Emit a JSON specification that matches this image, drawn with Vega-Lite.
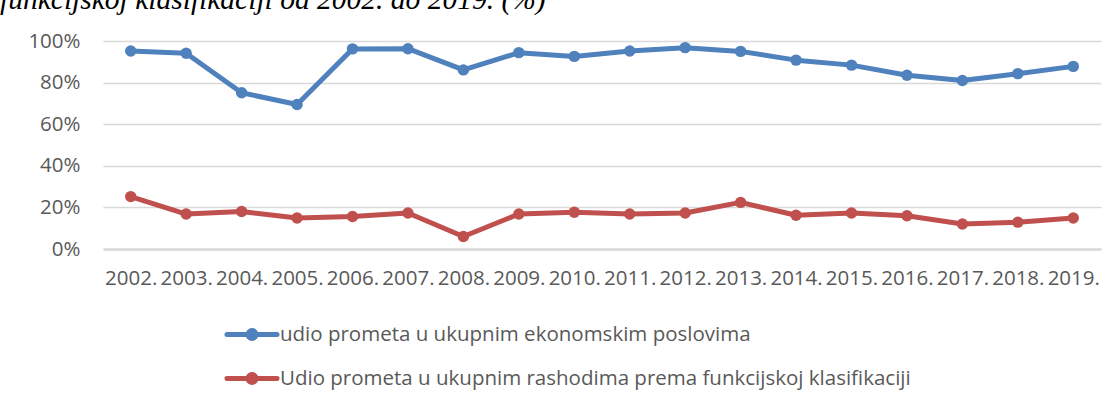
{
  "$schema": "https://vega.github.io/schema/vega-lite/v6.json",
  "width": 998,
  "height": 208,
  "autosize": {"type": "none"},
  "padding": {"left": 103, "top": 41, "right": 14, "bottom": 159},
  "background": "white",
  "title": {
    "text": "funkcijskoj klasifikaciji od 2002. do 2019. (%)",
    "anchor": "start",
    "frame": "group",
    "font": "Liberation Serif",
    "fontStyle": "italic",
    "fontWeight": "normal",
    "fontSize": 29.5,
    "color": "black",
    "baseline": "alphabetic",
    "offset": 0,
    "dx": -103,
    "dy": 7
  },
  "data": {
    "values": [
      {"year": "2002.", "series": "udio prometa u ukupnim ekonomskim poslovima", "value": 95.2},
      {"year": "2003.", "series": "udio prometa u ukupnim ekonomskim poslovima", "value": 94.1},
      {"year": "2004.", "series": "udio prometa u ukupnim ekonomskim poslovima", "value": 75.1},
      {"year": "2005.", "series": "udio prometa u ukupnim ekonomskim poslovima", "value": 69.5},
      {"year": "2006.", "series": "udio prometa u ukupnim ekonomskim poslovima", "value": 96.2},
      {"year": "2007.", "series": "udio prometa u ukupnim ekonomskim poslovima", "value": 96.3},
      {"year": "2008.", "series": "udio prometa u ukupnim ekonomskim poslovima", "value": 86.1},
      {"year": "2009.", "series": "udio prometa u ukupnim ekonomskim poslovima", "value": 94.4},
      {"year": "2010.", "series": "udio prometa u ukupnim ekonomskim poslovima", "value": 92.6},
      {"year": "2011.", "series": "udio prometa u ukupnim ekonomskim poslovima", "value": 95.2},
      {"year": "2012.", "series": "udio prometa u ukupnim ekonomskim poslovima", "value": 96.8},
      {"year": "2013.", "series": "udio prometa u ukupnim ekonomskim poslovima", "value": 95.0},
      {"year": "2014.", "series": "udio prometa u ukupnim ekonomskim poslovima", "value": 90.8},
      {"year": "2015.", "series": "udio prometa u ukupnim ekonomskim poslovima", "value": 88.4},
      {"year": "2016.", "series": "udio prometa u ukupnim ekonomskim poslovima", "value": 83.5},
      {"year": "2017.", "series": "udio prometa u ukupnim ekonomskim poslovima", "value": 81.0},
      {"year": "2018.", "series": "udio prometa u ukupnim ekonomskim poslovima", "value": 84.3},
      {"year": "2019.", "series": "udio prometa u ukupnim ekonomskim poslovima", "value": 87.8},
      {"year": "2002.", "series": "Udio prometa u ukupnim rashodima prema funkcijskoj klasifikaciji", "value": 25.2},
      {"year": "2003.", "series": "Udio prometa u ukupnim rashodima prema funkcijskoj klasifikaciji", "value": 16.8},
      {"year": "2004.", "series": "Udio prometa u ukupnim rashodima prema funkcijskoj klasifikaciji", "value": 18.0},
      {"year": "2005.", "series": "Udio prometa u ukupnim rashodima prema funkcijskoj klasifikaciji", "value": 14.9},
      {"year": "2006.", "series": "Udio prometa u ukupnim rashodima prema funkcijskoj klasifikaciji", "value": 15.6},
      {"year": "2007.", "series": "Udio prometa u ukupnim rashodima prema funkcijskoj klasifikaciji", "value": 17.3},
      {"year": "2008.", "series": "Udio prometa u ukupnim rashodima prema funkcijskoj klasifikaciji", "value": 6.0},
      {"year": "2009.", "series": "Udio prometa u ukupnim rashodima prema funkcijskoj klasifikaciji", "value": 16.8},
      {"year": "2010.", "series": "Udio prometa u ukupnim rashodima prema funkcijskoj klasifikaciji", "value": 17.7},
      {"year": "2011.", "series": "Udio prometa u ukupnim rashodima prema funkcijskoj klasifikaciji", "value": 16.8},
      {"year": "2012.", "series": "Udio prometa u ukupnim rashodima prema funkcijskoj klasifikaciji", "value": 17.3},
      {"year": "2013.", "series": "Udio prometa u ukupnim rashodima prema funkcijskoj klasifikaciji", "value": 22.4},
      {"year": "2014.", "series": "Udio prometa u ukupnim rashodima prema funkcijskoj klasifikaciji", "value": 16.2},
      {"year": "2015.", "series": "Udio prometa u ukupnim rashodima prema funkcijskoj klasifikaciji", "value": 17.3},
      {"year": "2016.", "series": "Udio prometa u ukupnim rashodima prema funkcijskoj klasifikaciji", "value": 16.0},
      {"year": "2017.", "series": "Udio prometa u ukupnim rashodima prema funkcijskoj klasifikaciji", "value": 12.0},
      {"year": "2018.", "series": "Udio prometa u ukupnim rashodima prema funkcijskoj klasifikaciji", "value": 12.9},
      {"year": "2019.", "series": "Udio prometa u ukupnim rashodima prema funkcijskoj klasifikaciji", "value": 14.9}
    ]
  },
  "encoding": {
    "x": {
      "field": "year",
      "type": "ordinal",
      "sort": null,
      "scale": {"type": "point", "padding": 0.5},
      "axis": {
        "title": null,
        "labelAngle": 0,
        "labelFont": "Open Sans",
        "labelFontSize": 20.5,
        "labelColor": "#595959",
        "labelPadding": 19,
        "ticks": false,
        "tickSize": 0,
        "domain": true,
        "domainColor": "#d9d9d9",
        "domainWidth": 2.5,
        "grid": false,
        "labelOverlap": false,
        "labelBound": false,
        "labelFlush": false
      }
    },
    "y": {
      "field": "value",
      "type": "quantitative",
      "scale": {"domain": [0, 100]},
      "axis": {
        "title": null,
        "values": [0, 20, 40, 60, 80, 100],
        "labelExpr": "datum.value + '%'",
        "labelFont": "Open Sans",
        "labelFontSize": 20.5,
        "labelColor": "#595959",
        "labelPadding": 23,
        "ticks": false,
        "tickSize": 0,
        "domain": false,
        "grid": true,
        "gridColor": "#d9d9d9",
        "gridWidth": 1.5
      }
    },
    "color": {
      "field": "series",
      "type": "nominal",
      "scale": {
        "domain": ["udio prometa u ukupnim ekonomskim poslovima", "Udio prometa u ukupnim rashodima prema funkcijskoj klasifikaciji"],
        "range": ["#4F81BD", "#C0504D"]
      },
      "legend": {
        "title": null,
        "orient": "none",
        "legendX": 119,
        "legendY": 263.5,
        "direction": "vertical",
        "padding": 0,
        "labelFont": "Open Sans",
        "labelFontSize": 20.5,
        "labelColor": "#595959",
        "labelLimit": 1000,
        "labelOffset": -2,
        "rowPadding": -9,
        "symbolType": "M-0.91,0L0.91,0M-0.145,0A0.145,0.145,0,1,1,0.145,0A0.145,0.145,0,1,1,-0.145,0Z",
        "symbolSize": 3025,
        "symbolStrokeWidth": 5,
        "encode": {
          "symbols": {
            "update": {
              "stroke": {"scale": "color", "field": "value"},
              "fill": {"scale": "color", "field": "value"},
              "strokeCap": {"value": "round"},
              "opacity": {"value": 1}
            }
          }
        }
      }
    }
  },
  "layer": [
    {"mark": {"type": "line", "strokeWidth": 5, "strokeCap": "round", "strokeJoin": "round"}},
    {"mark": {"type": "point", "filled": true, "size": 130, "opacity": 1}}
  ],
  "config": {"view": {"stroke": null}}
}
